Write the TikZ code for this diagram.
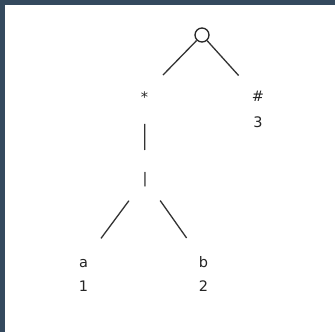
\documentclass[tikz,border=0pt]{standalone}
\usepackage{fontspec}
\setmainfont{DejaVu Sans}
\begin{document}
\begin{tikzpicture}[x=1pt,y=1pt,
  edge/.style={draw=black!80, line width=1.3pt},
  lbl/.style={anchor=base, inner sep=0pt, text=black!85, font=\fontsize{14.5}{17}\selectfont},
  rootnode/.style={circle, draw=black!85, line width=1.3pt, minimum size=14pt, inner sep=0pt}]
\definecolor{frame}{HTML}{34495E}
\useasboundingbox (0,0) rectangle (335,332);
\fill[frame] (0,0) rectangle (335,332);
\fill[white] (5,0) rectangle (335,327);
% nodes
\node[rootnode] (root) at (202,297) {};
\node[lbl] (star) at (144.5,229) {*};
\node[lbl] (hash) at (258,230) {\#};
\node[lbl] (three) at (258,204) {3};
\node[lbl] (bar) at (145,148.5) {|};
\node[lbl] (a) at (83.5,64) {a};
\node[lbl] (one) at (83.5,40) {1};
\node[lbl] (b) at (203.5,64) {b};
\node[lbl] (two) at (203.5,40) {2};
% glyph centres
\coordinate (starc) at (144.5,238);
\coordinate (hashc) at (258,235);
\coordinate (barc) at (145,153);
\coordinate (ac) at (83.5,70);
\coordinate (bc) at (203.5,70);
% edges
\draw[edge, shorten >=26.5pt] (root) -- (starc);
\draw[edge, shorten >=29pt] (root) -- (hashc);
\draw[edge, shorten <=30pt, shorten >=29pt] (starc) -- (barc);
\draw[edge, shorten <=27pt, shorten >=29.4pt] (barc) -- (ac);
\draw[edge, shorten <=26.4pt, shorten >=29.4pt] (barc) -- (bc);
\end{tikzpicture}
\end{document}
